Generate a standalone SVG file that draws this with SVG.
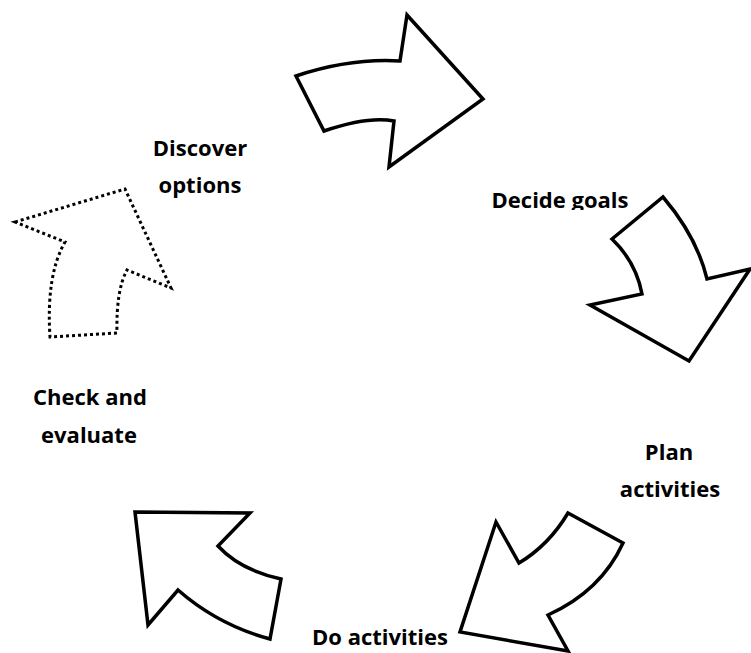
<svg xmlns="http://www.w3.org/2000/svg" width="751" height="653" viewBox="0 0 751 653">
<style>
.arr{fill:#fff;stroke:#000;stroke-width:3.5;stroke-linejoin:miter}
.dot{fill:#fff;stroke:#000;stroke-width:3;stroke-dasharray:3,3}
.lbl{font-family:"Open Sans","Liberation Sans",sans-serif;font-weight:700;font-size:22px;fill:#000;text-anchor:middle}
</style>
<defs><clipPath id="cg"><rect x="0" y="0" width="751" height="210"/></clipPath></defs>
<rect width="751" height="653" fill="#fff"/>
<g id="connectors">
<path id="a1" class="arr" d="M296,76 Q350,58 400,61 L407,15 L483,99 L389,167 L394,121 Q368,116 324,131 Z"/>
<path id="a2" class="arr" d="M663,197 Q697,237 707,279 L750,269 L689,361 L590,305 L642,294 Q636,262 612,239 Z"/>
<path id="a3" class="arr" d="M568,513 L623,543 Q601,591 548,615 L568,651 L460,632 L496,522 L519,563 Q549,545 568,513 Z"/>
<path id="a4" class="arr" d="M135,512 L250,513 L218,546 Q240,570 281,579 L270,639 Q218,625 178,590 L148,625 Z"/>
<path id="a5" class="dot" d="M15,222 L125,189 L171,288 L127,270 Q116,290 117,333 L50,337 Q46,275 65,242 Z"/>
</g>
<g id="n1"><text class="lbl" x="200" y="156">Discover</text><text class="lbl" x="200" y="193">options</text></g>
<g id="n2" clip-path="url(#cg)"><text class="lbl" x="560" y="208">Decide goals</text></g>
<g id="n3"><text class="lbl" x="669" y="460">Plan</text><text class="lbl" x="670" y="497">activities</text></g>
<g id="n4"><text class="lbl" x="380" y="645">Do activities</text></g>
<g id="n5"><text class="lbl" x="90" y="405">Check and</text><text class="lbl" x="89" y="443">evaluate</text></g>
</svg>
